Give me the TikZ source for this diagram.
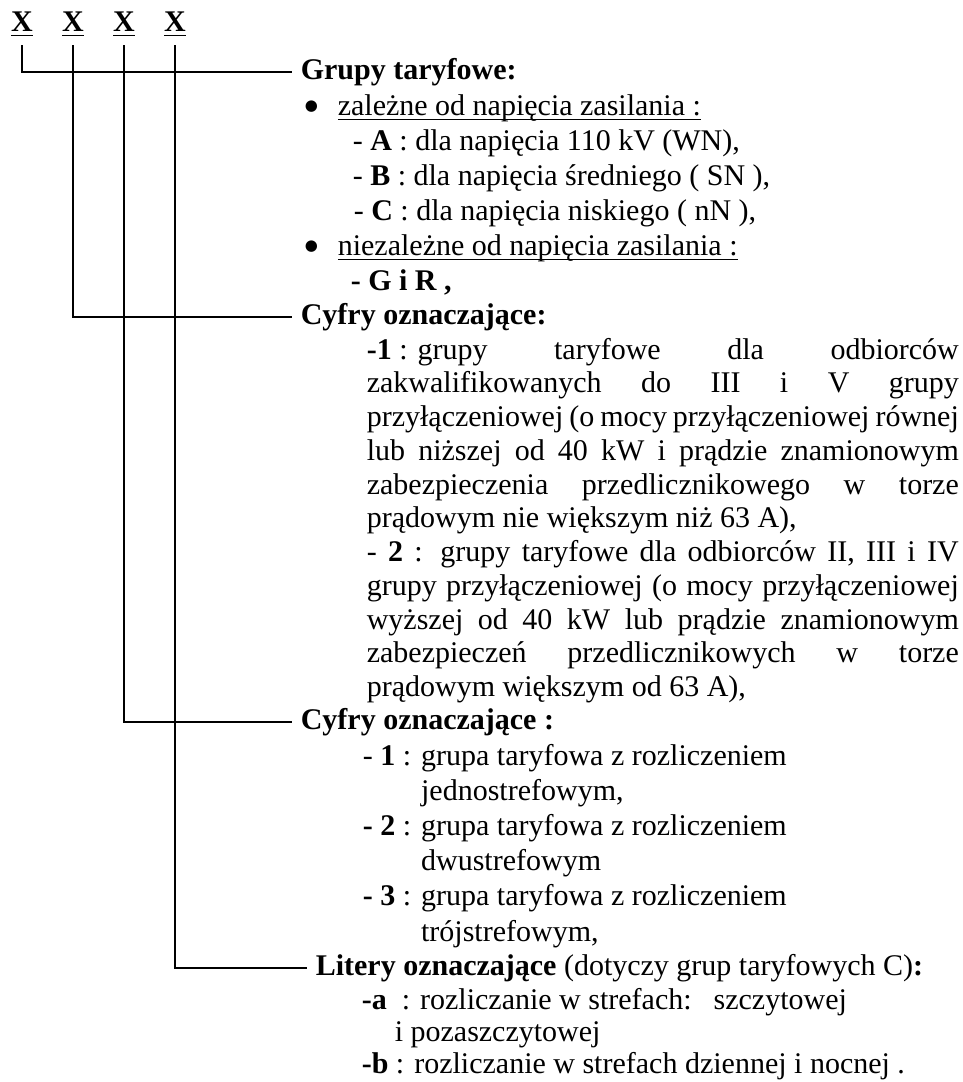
\documentclass[tikz,border=0pt]{standalone}
\usepackage{fontspec}
\setmainfont{Liberation Serif}
\newfontfamily\symfont{DejaVu Sans}

% underline drawn just below the baseline
\newcommand{\ulin}[1]{\setbox0=\hbox{#1}\rlap{\rule[-5pt]{\wd0}{1.5pt}}\box0}
% justified line of the long paragraphs
\newcommand{\jl}[1]{\makebox[592pt][s]{#1}}
% list bullet
\newcommand{\kropka}{\makebox[33pt][l]{\raisebox{4.5pt}{\symfont\fontsize{15}{15}\selectfont ●}}}

\begin{document}
\begin{tikzpicture}[x=1pt, y=-1pt, node distance={51pt}, line width=1.6pt,
    xmark/.style = {font=\fontsize{30}{35}\selectfont\bfseries, inner sep=8pt},
    head/.style = {anchor=west, inner xsep=8pt, inner ysep=0pt, font=\fontsize{30}{35}\selectfont},
    body/.style = {anchor=north west, inner sep=0pt, align=left, font=\fontsize{30}{35}\selectfont}]
    \useasboundingbox (0,0) rectangle (963,1082);

    \node[xmark] (x1) at (22,24) {\ulin{X}};
    \node[xmark] (x2) [right of=x1] {\ulin{X}};
    \node[xmark] (x3) [right of=x2] {\ulin{X}};
    \node[xmark] (x4) [right of=x3] {\ulin{X}};

    \node[head] (grupy) at (292,72) {\textbf{Grupy taryfowe:}};
    \node[head] (cyfry) at (292,317) {\textbf{Cyfry oznaczające:}};
    \node[head] (cyfryb) at (292,722) {\textbf{Cyfry oznaczające :}};
    \node[head] (litery) at (307,968) {\textbf{Litery oznaczające} (dotyczy grup taryfowych C)\textbf{:}};

    \node[body] (napiecie) at (304,93.5) {\kropka\ulin{zależne od napięcia zasilania :}\\
        \hspace*{48pt}- \textbf{A} : dla napięcia 110 kV (WN),\\
        \hspace*{48pt}- \textbf{B} : dla napięcia średniego ( SN ),\\
        \hspace*{49pt}- \textbf{C} : dla napięcia niskiego ( nN ),\\
        \kropka\ulin{niezależne od napięcia zasilania :}\\
        \hspace*{46pt}\textbf{- G i R ,}};

    \node[body, font=\fontsize{30}{33.75}\selectfont] (odbiorcy) at (366,337.3) {\jl{\hbox{\textbf{-1} : grupy} taryfowe dla odbiorców}\\
        \jl{zakwalifikowanych do III i V grupy}\\
        \jl{przyłączeniowej (o mocy przyłączeniowej równej}\\
        \jl{lub niższej od 40 kW i prądzie znamionowym}\\
        \jl{zabezpieczenia przedlicznikowego w torze}\\
        prądowym nie większym niż 63 A),\\
        \jl{- \textbf{2} : grupy taryfowe dla odbiorców II, III i IV}\\
        \jl{grupy przyłączeniowej (o mocy przyłączeniowej}\\
        \jl{wyższej od 40 kW lub prądzie znamionowym}\\
        \jl{zabezpieczeń przedlicznikowych w torze}\\
        prądowym większym od 63 A),};

    \node[body, font=\fontsize{30}{35.1}\selectfont] (strefy) at (362,743.6) {- \textbf{1} : grupa taryfowa z rozliczeniem\\
        \phantom{- \textbf{1} : }jednostrefowym,\\
        \textbf{- 2} : grupa taryfowa z rozliczeniem\\
        \phantom{- \textbf{1} : }dwustrefowym\\
        \textbf{- 3} : grupa taryfowa z rozliczeniem\\
        \phantom{- \textbf{1} : }trójstrefowym,};

    \node[body, font=\fontsize{30}{32}\selectfont] (rozliczanie) at (361,988) {\textbf{-a}\ \ : rozliczanie w strefach:\hspace{22pt}szczytowej\\
        \hspace*{33pt}i pozaszczytowej\\
        \textbf{-b} : rozliczanie w strefach dziennej i nocnej .};

    \draw (x1.south) |- (grupy.west);
    \draw (x2.south) |- (cyfry.west);
    \draw (x3.south) |- (cyfryb.west);
    \draw (x4.south) |- (litery.west);
\end{tikzpicture}
\end{document}
